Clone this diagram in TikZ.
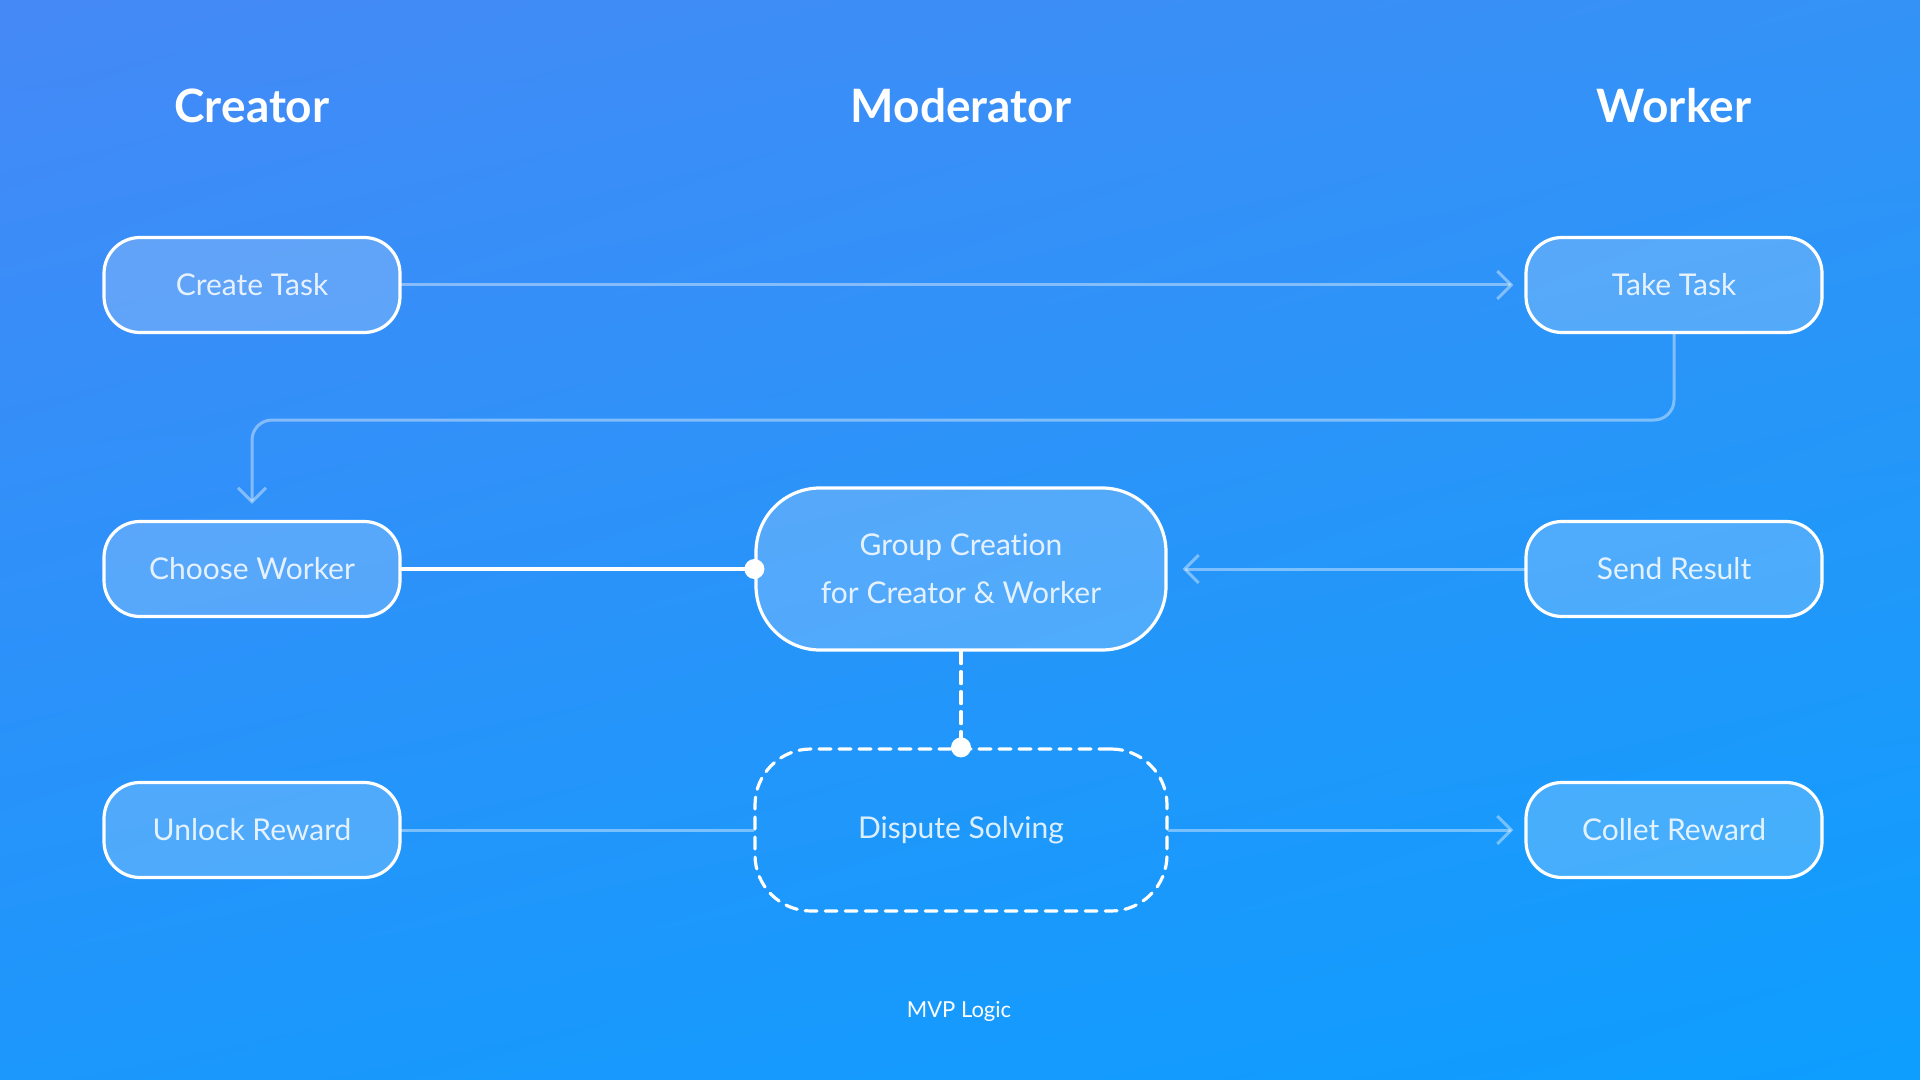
\documentclass[tikz,border=0pt]{standalone}
\usepackage{fontspec}
\setmainfont{Lato}[Ligatures=NoCommon]
\usetikzlibrary{arrows.meta,positioning,calc,shadings}

\begin{document}
\begin{tikzpicture}
[x=0.5pt,y=-0.5pt,line cap=round,
% Styles
title text/.style={text=white,anchor=base,font=\fontsize{23}{28}\selectfont\bfseries},
note text/.style={text=white,anchor=base,font=\fontsize{11}{13}\selectfont},
task box/.style={draw=white,line width=1.6pt,fill=white,fill opacity=0.2,
  text=white,text opacity=0.85,rounded corners=18pt,minimum width=148pt,
  minimum height=47.5pt,align=center,font=\fontsize{15}{24}\selectfont},
group box/.style={task box,rounded corners=32pt,minimum width=205pt,minimum height=81pt},
dispute box/.style={task box,fill=none,dash pattern=on 6pt off 4pt,rounded corners=28pt,
  minimum width=206pt,minimum height=81pt},
light line/.style={draw=white,draw opacity=0.4,line width=1.5pt},
main line/.style={draw=white,line width=1.6pt},
arrow tip/.style={-{Straight Barb[length=7pt,width=14pt]}}]
% Colors
\colorlet{topleft}{rgb,255:red,69;green,137;blue,246}
\colorlet{topright}{rgb,255:red,52;green,146;blue,246}
\colorlet{bottomleft}{rgb,255:red,28;green,151;blue,252}
\colorlet{bottomright}{rgb,255:red,13;green,158;blue,254}
% Background
\shade[upper left=topleft,upper right=topright,lower left=bottomleft,lower right=bottomright]
(0,0) rectangle (1920,1080);
\useasboundingbox (0,0) rectangle (1920,1080);
% Column titles
\node[title text] (creator) at (252,123) {Creator};
\node[title text] (moderator) at (961,123) {Moderator};
\node[title text] (worker) at (1674,123) {Worker};
% The graphic
\node[task box] (create) at (252,285) {Create Task};
\node[task box] (take) at (1674,285) {Take Task};
\node[task box] (choose) at (252,569) {Choose Worker};
\node[group box] (group) at (961,569) {Group Creation\\for Creator \& Worker};
\node[task box] (send) at (1674,569) {Send Result};
\node[task box] (unlock) at (252,830) {Unlock Reward};
\node[dispute box] (dispute) at (961,830) {Dispute Solving};
\node[task box] (collect) at (1674,830) {Collet Reward};
\node[note text] (mvp) at (959,1017) {MVP Logic};
% Connectors
\draw[light line,arrow tip,shorten >=5.5pt] (create) -- (take);
\draw[light line,arrow tip,rounded corners=10pt,shorten >=8pt]
(take.south) -- (take.south |- 0,420) -- (choose.north |- 0,420) -- (choose.north);
\draw[main line] (choose) -- (group);
\fill[white] (group.west) circle (5pt);
\draw[light line,arrow tip,shorten >=7.5pt] (send) -- (group);
\draw[main line,dash pattern=on 6pt off 4pt] (group) -- (dispute);
\fill[white] (dispute.north) circle (5pt);
\draw[light line] (unlock) -- (dispute);
\draw[light line,arrow tip,shorten >=5.5pt] (dispute) -- (collect);
\end{tikzpicture}
\end{document}
